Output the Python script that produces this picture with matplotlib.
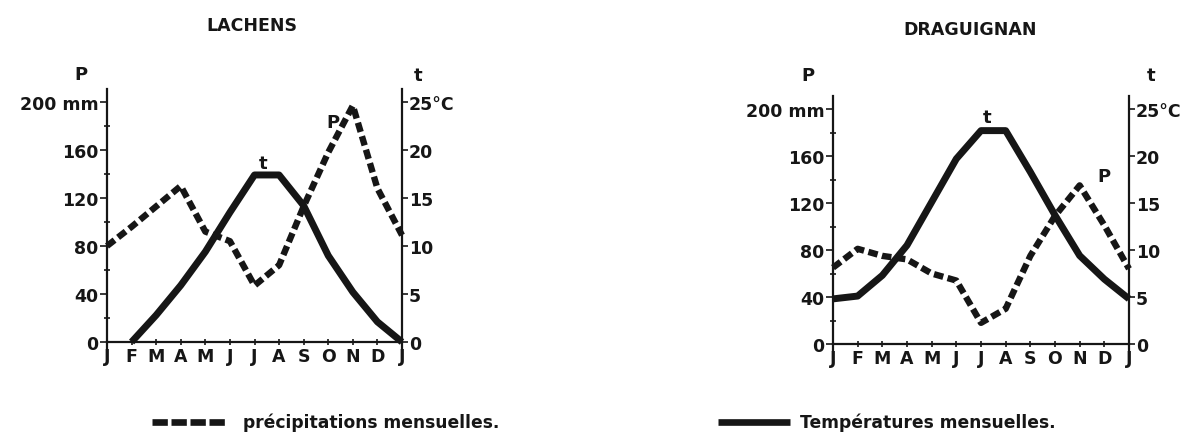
import matplotlib
matplotlib.use('Agg')
import matplotlib.pyplot as plt
from matplotlib.lines import Line2D
import numpy as np

W, H = 1199, 439

months = ['J', 'F', 'M', 'A', 'M', 'J', 'J', 'A', 'S', 'O', 'N', 'D', 'J']
lachens_precip = [80, 96, 113, 130, 92, 84, 47, 64, 113, 158, 197, 128, 89]
lachens_temp = [np.nan, 0, 2.8, 5.9, 9.4, 13.5, 17.4, 17.4, 14.2, 9.0, 5.2, 2.1, 0]
drag_precip = [65, 81, 75, 72, 60, 54, 18, 30, 75, 109, 135, 101, 64]
drag_temp = [4.8, 5.1, 7.3, 10.5, 15.1, 19.7, 22.7, 22.7, 18.3, 13.7, 9.4, 6.9, 4.8]
p_ticks = [0, 40, 80, 120, 160, 200]
p_labels = ['0', '40', '80', '120', '160', '200 mm']
p_minor = [20, 60, 100, 140, 180]
t_ticks = [0, 5, 10, 15, 20, 25]
t_labels = ['0', '5', '10', '15', '20', '25°C']

INK = '#161616'
plt.rcParams['font.family'] = ['DejaVu Sans']

fig = plt.figure(figsize=(W / 100, H / 100), dpi=100)
fig.patch.set_facecolor('white')


def fx(x):
    return x / W


def fy(y):
    return 1 - y / H


def panel(x0, x1, y0, y200, precip, temp, title, title_xy, t_xy, p_xy,
          Plab_xy, tlab_xy):
    ppu = (y0 - y200) / 200.0
    ylo, yhi = -5, 211
    bot = y0 - ylo * ppu
    top = y200 - (yhi - 200) * ppu
    ax = fig.add_axes([fx(x0), fy(bot), (x1 - x0) / W, (bot - top) / H])
    ax.set_xlim(0, 12)
    ax.set_ylim(ylo, yhi)
    ax.patch.set_alpha(0)
    for s in ['top', 'right']:
        ax.spines[s].set_visible(False)
    ax.spines['bottom'].set_position(('data', 0))
    for s in ['left', 'bottom']:
        ax.spines[s].set_linewidth(1.6)
        ax.spines[s].set_color(INK)
    ax.set_xticks(range(13))
    ax.set_xticklabels(months, fontsize=12.5, fontweight='bold', color=INK)
    ax.tick_params(axis='x', direction='inout', length=5, width=1.2,
                   pad=1, colors=INK)
    ax.set_yticks(p_ticks)
    ax.set_yticklabels(p_labels, fontsize=12.5, fontweight='bold', color=INK)
    ax.set_yticks(p_minor, minor=True)
    ax.tick_params(axis='y', which='major', direction='out', length=5,
                   width=1.2, pad=1, colors=INK)
    ax.tick_params(axis='y', which='minor', direction='inout', length=5,
                   width=1.2, colors=INK)
    x = np.arange(13)
    ax.plot(x, precip, color=INK, lw=4.6, dashes=(1.5, 0.7),
            dash_capstyle='butt', solid_joinstyle='round', clip_on=False)

    tw = ax.twinx()
    tw.set_ylim(ylo / 8.0, yhi / 8.0)
    tw.set_xlim(0, 12)
    for s in ['top', 'left', 'bottom']:
        tw.spines[s].set_visible(False)
    tw.spines['right'].set_linewidth(1.6)
    tw.spines['right'].set_color(INK)
    tw.set_yticks(t_ticks)
    tw.set_yticklabels(t_labels, fontsize=12.5, fontweight='bold', color=INK)
    tw.tick_params(axis='y', direction='out', length=4, width=1.2, pad=1,
                   colors=INK)
    tw.plot(x, temp, color=INK, lw=5.0, solid_capstyle='butt',
            solid_joinstyle='round', clip_on=False)

    fig.text(fx(title_xy[0]), fy(title_xy[1]), title, ha='center',
             va='center', fontsize=12.5, fontweight='bold', color=INK)
    fig.text(fx(t_xy[0]), fy(t_xy[1]), 't', ha='center', va='center',
             fontsize=13, fontweight='bold', color=INK)
    fig.text(fx(p_xy[0]), fy(p_xy[1]), 'P', ha='center', va='center',
             fontsize=13, fontweight='bold', color=INK)
    fig.text(fx(Plab_xy[0]), fy(Plab_xy[1]), 'P', ha='center', va='center',
             fontsize=13, fontweight='bold', color=INK)
    fig.text(fx(tlab_xy[0]), fy(tlab_xy[1]), 't', ha='center', va='center',
             fontsize=13, fontweight='bold', color=INK)
    return ax


panel(107, 402, 343, 103, lachens_precip, lachens_temp, 'LACHENS',
      (252, 26), (263, 164), (333, 123), (81, 75), (418, 76))
panel(833, 1129, 345, 110, drag_precip, drag_temp, 'DRAGUIGNAN',
      (970, 30), (987, 118), (1104, 177), (808, 76), (1151, 76))

# legend
fig.add_artist(Line2D([fx(152), fx(228)], [fy(423), fy(423)], color=INK,
                      lw=4.8, dashes=(2.3, 0.55), dash_capstyle='butt'))
fig.text(fx(243), fy(423), 'précipitations mensuelles.', ha='left',
         va='center', fontsize=12.3, fontweight='bold', color=INK)
fig.add_artist(Line2D([fx(718), fx(790)], [fy(423), fy(423)], color=INK,
                      lw=4.8, solid_capstyle='butt'))
fig.text(fx(800), fy(423), 'Températures mensuelles.', ha='left',
         va='center', fontsize=12.3, fontweight='bold', color=INK)

fig.savefig('out.png', dpi=100, facecolor='white')
